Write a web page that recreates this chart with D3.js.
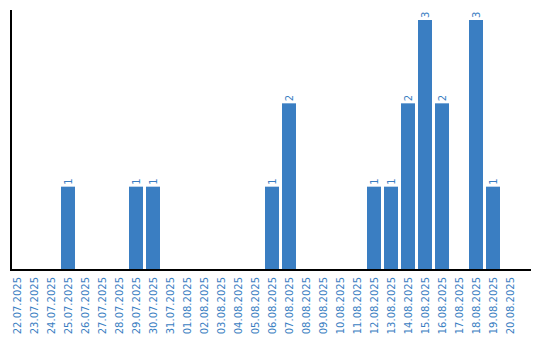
<!DOCTYPE html>
<html>
<head>
<meta charset="utf-8">
<script src="https://cdn.jsdelivr.net/npm/d3@7"></script>
<style>
html,body{margin:0;padding:0;background:#fff;}
svg{display:block;}
</style>
</head>
<body>
<svg id="chart" width="540" height="340"></svg>
<script>
const dates = ["22.07.2025","23.07.2025","24.07.2025","25.07.2025","26.07.2025","27.07.2025","28.07.2025","29.07.2025","30.07.2025","31.07.2025","01.08.2025","02.08.2025","03.08.2025","04.08.2025","05.08.2025","06.08.2025","07.08.2025","08.08.2025","09.08.2025","10.08.2025","11.08.2025","12.08.2025","13.08.2025","14.08.2025","15.08.2025","16.08.2025","17.08.2025","18.08.2025","19.08.2025","20.08.2025"];
const counts = [0,0,0,1,0,0,0,1,1,0,0,0,0,0,0,1,2,0,0,0,0,1,1,2,3,2,0,3,1,0];

const svg = d3.select("#chart");
const blue = "#3a7ec2";

const x = d3.scaleBand().domain(dates).range([8.5, 518.5]).paddingInner(3/17).paddingOuter(3/34);
const y = d3.scaleLinear().domain([0, 3.12]).range([270, 10]);

const data = dates.map((d,i)=>({d, v: counts[i]}));

svg.selectAll("rect.bar").data(data.filter(e=>e.v>0)).enter().append("rect")
  .attr("class","bar")
  .attr("x", e=>x(e.d))
  .attr("y", e=>y(e.v))
  .attr("width", x.bandwidth())
  .attr("height", e=>y(0)-y(e.v))
  .attr("fill", blue);

svg.selectAll("text.val").data(data.filter(e=>e.v>0)).enter().append("text")
  .attr("class","val")
  .attr("transform", e=>`translate(${x(e.d)+x.bandwidth()/2+3.5},${y(e.v)-2}) rotate(-90)`)
  .attr("font-family","DejaVu Sans")
  .attr("font-size", 10)
  .attr("fill", blue)
  .attr("text-anchor","start")
  .text(e=>e.v);

// axes
const xAxis = d3.axisBottom(x).tickSize(0).tickPadding(0);
const gx = svg.append("g").attr("transform","translate(0,270)").call(xAxis);
gx.select(".domain").remove();
gx.selectAll("text")
  .attr("font-family","DejaVu Sans")
  .attr("font-size",10)
  .attr("fill", blue)
  .attr("text-anchor","end")
  .attr("dy", null)
  .attr("y", 0)
  .attr("transform","translate(3.5,7) rotate(-90)");

svg.append("line").attr("x1",10).attr("x2",531).attr("y1",270).attr("y2",270)
  .attr("stroke","#000").attr("stroke-width",2);
svg.append("line").attr("x1",11).attr("x2",11).attr("y1",10).attr("y2",271)
  .attr("stroke","#000").attr("stroke-width",2);
</script>
</body>
</html>
